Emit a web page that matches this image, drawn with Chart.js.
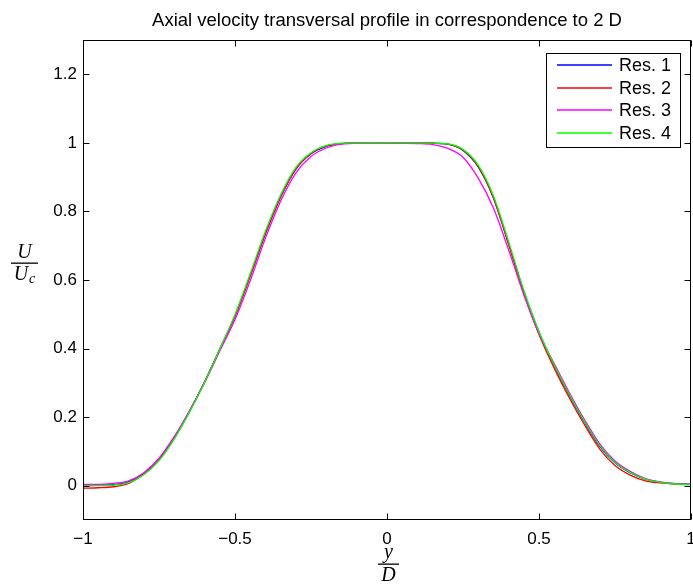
<!DOCTYPE html>
<html><head><meta charset="utf-8">
<style>html,body{margin:0;padding:0;background:#fff;} #wrap{width:693px;height:587px;}</style>
<script src="https://cdn.jsdelivr.net/npm/chart.js@4.4.0/dist/chart.umd.min.js"></script>
</head><body><div id="wrap"><canvas id="c" width="693" height="587"></canvas></div>
<script>
const xValues = [-1,-0.95,-0.9,-0.85,-0.8,-0.75,-0.7,-0.65,-0.6,-0.55,-0.5,-0.45,-0.4,-0.35,-0.3,-0.25,-0.2,-0.15,-0.1,-0.05,0,0.05,0.1,0.15,0.2,0.25,0.3,0.35,0.4,0.45,0.5,0.55,0.6,0.65,0.7,0.75,0.8,0.85,0.9,0.95,1];
const res1 = [0.000,0.001,0.003,0.011,0.035,0.077,0.140,0.217,0.303,0.398,0.495,0.612,0.735,0.842,0.923,0.968,0.990,0.998,1.0,1.0,1.0,1.0,1.0,0.999,0.996,0.978,0.930,0.840,0.706,0.566,0.447,0.350,0.264,0.185,0.115,0.067,0.038,0.019,0.010,0.006,0.004];
const res2 = [-0.007,-0.006,-0.003,0.007,0.034,0.076,0.139,0.216,0.302,0.398,0.495,0.612,0.736,0.843,0.924,0.969,0.991,0.998,1.0,1.0,1.0,1.0,1.0,0.999,0.996,0.979,0.931,0.840,0.704,0.562,0.441,0.343,0.256,0.177,0.107,0.059,0.031,0.014,0.008,0.005,0.003];
const res3 = [0.004,0.004,0.007,0.014,0.038,0.080,0.143,0.218,0.301,0.393,0.485,0.598,0.722,0.830,0.912,0.960,0.985,0.996,0.999,1.0,1.0,0.999,0.998,0.995,0.984,0.958,0.897,0.810,0.688,0.557,0.444,0.356,0.271,0.192,0.122,0.072,0.042,0.021,0.011,0.006,0.004];
const res4 = [0.000,0.000,0.002,0.009,0.032,0.073,0.136,0.214,0.301,0.399,0.499,0.618,0.742,0.848,0.928,0.971,0.992,0.999,1.0,1.0,1.0,1.0,1.0,0.999,0.997,0.981,0.935,0.846,0.712,0.570,0.450,0.352,0.266,0.187,0.117,0.068,0.039,0.019,0.010,0.005,0.003];
const seriesLabels = ['Res. 1','Res. 2','Res. 3','Res. 4'];
const seriesColors = ['#0000ff','#ff0000','#ff00ff','#00ff00'];
const xTickValues = [-1,-0.5,0,0.5,1];
const xTickLabels = ['\u22121','\u22120.5','0','0.5','1'];
const yTickValues = [0,0.2,0.4,0.6,0.8,1,1.2];
const yTickLabels = ['0','0.2','0.4','0.6','0.8','1','1.2'];
const titleText = 'Axial velocity transversal profile in correspondence to 2 D';

const allSeries = [res1,res2,res3,res4];
const datasets = allSeries.map((s,k)=>({
  label: seriesLabels[k],
  data: s.map((v,i)=>({x:xValues[i], y:v})),
  borderColor: seriesColors[k],
  backgroundColor: seriesColors[k],
  borderWidth: 1.3,
  pointRadius: 0,
  fill: false,
  cubicInterpolationMode: 'monotone',
  order: allSeries.length - k
}));

const SANS = '"Liberation Sans", Arial, sans-serif';
const SERIF = '"Liberation Serif", "Times New Roman", serif';

const decor = {
  id: 'decor',
  afterDatasetsDraw(chart) {
    const ctx = chart.ctx;
    const a = chart.chartArea;
    const xs = chart.scales.x, ys = chart.scales.y;
    const L = Math.round(a.left)+0.5, R = Math.round(a.right)-0.5, T = Math.round(a.top)+0.5, B = Math.round(a.bottom)-0.5;
    ctx.save();
    ctx.strokeStyle = '#000'; ctx.lineWidth = 1;
    ctx.beginPath();
    yTickValues.forEach(v=>{
      const p = Math.round(ys.getPixelForValue(v))+0.5;
      ctx.moveTo(L,p); ctx.lineTo(L+6,p);
      ctx.moveTo(R,p); ctx.lineTo(R-6,p);
    });
    xTickValues.forEach(v=>{
      const p = Math.round(xs.getPixelForValue(v))+0.5;
      ctx.moveTo(p,B); ctx.lineTo(p,B-6);
      ctx.moveTo(p,T); ctx.lineTo(p,T+6);
    });
    ctx.stroke();
    ctx.strokeRect(L,T,R-L,B-T);
    // title
    ctx.fillStyle = '#000';
    ctx.font = '18.5px ' + SANS;
    ctx.textAlign = 'center'; ctx.textBaseline = 'alphabetic';
    ctx.fillText(titleText, (L+R)/2, 26);
    // legend
    const lx = 546.5, ly = 53.5, lw = 134, lh = 94;
    ctx.fillStyle = '#fff';
    ctx.fillRect(lx,ly,lw,lh);
    ctx.strokeStyle = '#000';
    ctx.strokeRect(lx,ly,lw,lh);
    ctx.font = '18px ' + SANS;
    ctx.textAlign = 'left'; ctx.textBaseline = 'middle';
    chart.data.datasets.forEach((d,i)=>{
      const y = 65 + i*22.6;
      ctx.strokeStyle = d.borderColor;
      ctx.lineWidth = 1.3;
      ctx.beginPath(); ctx.moveTo(557, Math.round(y)); ctx.lineTo(612, Math.round(y)); ctx.stroke();
      ctx.fillStyle = '#000';
      ctx.fillText(d.label, 619, y+1);
    });
    // y label  U / U_c
    ctx.fillStyle = '#000';
    ctx.font = 'italic 20px ' + SERIF;
    ctx.textAlign = 'center'; ctx.textBaseline = 'alphabetic';
    ctx.fillText('U', 24.5, 258);
    ctx.fillRect(11, 262.5, 27, 1.3);
    const wU = ctx.measureText('U').width;
    ctx.font = 'italic 14px ' + SERIF;
    const wc = ctx.measureText('c').width;
    const start = 24.5 - (wU + wc + 1)/2;
    ctx.textAlign = 'left';
    ctx.font = 'italic 20px ' + SERIF;
    ctx.fillText('U', start, 280);
    ctx.font = 'italic 14px ' + SERIF;
    ctx.fillText('c', start + wU + 1, 283);
    // x label  y / D
    ctx.textAlign = 'center';
    ctx.font = 'italic 20px ' + SERIF;
    ctx.fillText('y', 388.5, 557.5);
    ctx.fillRect(378, 563.5, 21, 1.3);
    ctx.fillText('D', 388.5, 581);
    ctx.restore();
  }
};

new Chart(document.getElementById('c'), {
  type: 'line',
  data: { datasets },
  options: {
    responsive: false,
    devicePixelRatio: 1,
    animation: false,
    layout: { padding: { top: 40, right: 2, left: 0, bottom: 0 } },
    plugins: { legend: { display: false }, title: { display: false }, tooltip: { enabled: false } },
    scales: {
      x: {
        type: 'linear', min: -1, max: 1,
        afterBuildTicks: s => { s.ticks = xTickValues.map(v=>({value:v})); },
        afterFit: s => { s.height = 67; s.paddingLeft = 0; s.paddingRight = 0; },
        grid: { display: false, drawTicks: false },
        border: { display: false },
        ticks: { color: '#000', font: { family: SANS, size: 17 }, padding: 9, maxRotation: 0, autoSkip: false,
          callback: (v, i) => xTickLabels[i] }
      },
      y: {
        type: 'linear', min: -0.1, max: 1.3,
        afterBuildTicks: s => { s.ticks = yTickValues.map(v=>({value:v})); },
        afterFit: s => { s.width = 83; s.paddingTop = 0; s.paddingBottom = 0; },
        grid: { display: false, drawTicks: false },
        border: { display: false },
        ticks: { color: '#000', font: { family: SANS, size: 17 }, padding: 6, autoSkip: false,
          callback: (v, i) => yTickLabels[i] }
      }
    }
  },
  plugins: [decor]
});
</script>
</body></html>
